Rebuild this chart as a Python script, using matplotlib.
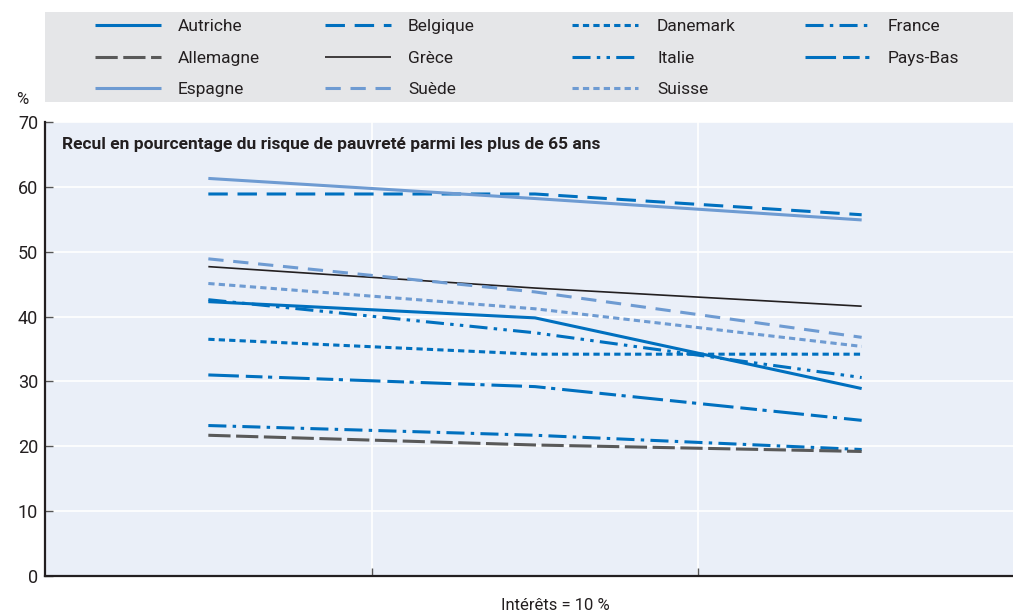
import matplotlib
matplotlib.use("Agg")
import matplotlib.pyplot as plt
from matplotlib.lines import Line2D
from matplotlib.patches import Rectangle

plt.rcParams['font.family'] = ['Roboto', 'DejaVu Sans']
plt.rcParams['lines.scale_dashes'] = False

# ---- data ----
points = [0, 1, 2]
countries = ["Autriche", "Belgique", "Danemark", "France",
             "Allemagne", "Grèce", "Italie", "Pays-Bas",
             "Espagne", "Suède", "Suisse"]
autriche = [42.3, 39.8, 28.9]
belgique = [58.9, 58.9, 55.7]
danemark = [36.5, 34.2, 34.2]
france = [23.2, 21.7, 19.5]
allemagne = [21.7, 20.2, 19.2]
grece = [47.7, 44.4, 41.6]
italie = [42.6, 37.5, 30.6]
paysbas = [31.0, 29.2, 24.0]
espagne = [61.3, 58.2, 54.9]
suede = [48.9, 43.8, 36.8]
suisse = [45.1, 41.2, 35.4]
values = [autriche, belgique, danemark, france, allemagne, grece,
          italie, paysbas, espagne, suede, suisse]
yticks = [0, 10, 20, 30, 40, 50, 60, 70]
title = "Recul en pourcentage du risque de pauvreté parmi les plus de 65 ans"
xlabel = "Intérêts = 10 %"

# ---- styles ----
DARK = "#0070BF"
LIGHT = "#6E9BD2"
GREY = "#595959"
BLACK = "#231F20"
styles = {
    "Autriche": dict(color=DARK, lw=2.2, ls="-"),
    "Belgique": dict(color=DARK, lw=2.2, dashes=(14, 7)),
    "Danemark": dict(color=DARK, lw=2.2, dashes=(4.5, 3)),
    "France": dict(color=DARK, lw=2.2, dashes=(13, 4.5, 2.5, 4.5)),
    "Allemagne": dict(color=GREY, lw=2.2, dashes=(16, 4)),
    "Grèce": dict(color=BLACK, lw=1.2, ls="-"),
    "Italie": dict(color=DARK, lw=2.2, dashes=(13, 4.5, 2.5, 4.5, 2.5, 4.5)),
    "Pays-Bas": dict(color=DARK, lw=2.2, dashes=(22, 5, 12, 4, 3, 5)),
    "Espagne": dict(color=LIGHT, lw=2.2, ls="-"),
    "Suède": dict(color=LIGHT, lw=2.2, dashes=(11, 7)),
    "Suisse": dict(color=LIGHT, lw=2.2, dashes=(4.5, 3)),
}

W, H = 1013, 613
fig = plt.figure(figsize=(W / 100, H / 100), dpi=100)


def fx(px):
    return px / W


def fy(py):
    return 1 - py / H


ax = fig.add_axes([fx(45), fy(576), (1025 - 45) / W, (576 - 122) / H])
ax.set_facecolor("#EAEFF8")
for name, vals in zip(countries, values):
    ax.plot(points, vals, solid_capstyle="butt", dash_capstyle="butt", **styles[name])

ax.set_xlim(-0.5, 2.5)
ax.set_ylim(0, 70)
ax.set_yticks(yticks)
ax.set_xticks([0.5, 1.5, 2.5])
ax.set_xticklabels([])
ax.grid(True, color="white", lw=1.2)
ax.set_axisbelow(True)
for s in ["top", "right"]:
    ax.spines[s].set_visible(False)
for s in ["left", "bottom"]:
    ax.spines[s].set_color(BLACK)
    ax.spines[s].set_linewidth(1.6)
ax.tick_params(axis="y", direction="in", length=6, width=1, color="#555555",
               labelsize=13, pad=5, labelcolor=BLACK)
ax.tick_params(axis="x", direction="in", length=6, width=1, color="#555555")

fig.text(fx(62), fy(143), title, fontsize=12.5, fontweight="bold",
         color=BLACK, va="center_baseline", ha="left")
fig.text(fx(555), fy(604), xlabel, fontsize=12, color=BLACK, ha="center",
         va="center_baseline")
fig.text(fx(22), fy(98), "%", fontsize=12, color=BLACK, ha="center",
         va="center_baseline")

# ---- legend (manual layout) ----
fig.add_artist(Rectangle((fx(45), fy(102)), fx(1013 - 45), (102 - 12) / H,
                         transform=fig.transFigure, facecolor="#E5E6E8",
                         edgecolor="none", zorder=0))
col_handle_x = [95, 325, 572, 805]
col_text_x = [178, 408, 657, 888]
row_y = [25, 57, 88]
for i, name in enumerate(countries):
    r, c = divmod(i, 4)
    y = fy(row_y[r])
    x0 = col_handle_x[c]
    ln = Line2D([fx(x0), fx(x0 + 66)], [y, y], transform=fig.transFigure,
                solid_capstyle="butt", dash_capstyle="butt", **styles[name])
    fig.add_artist(ln)
    fig.text(fx(col_text_x[c]), y, name, fontsize=12.5, color=BLACK,
             ha="left", va="center_baseline")

fig.savefig("out.png", dpi=100)
